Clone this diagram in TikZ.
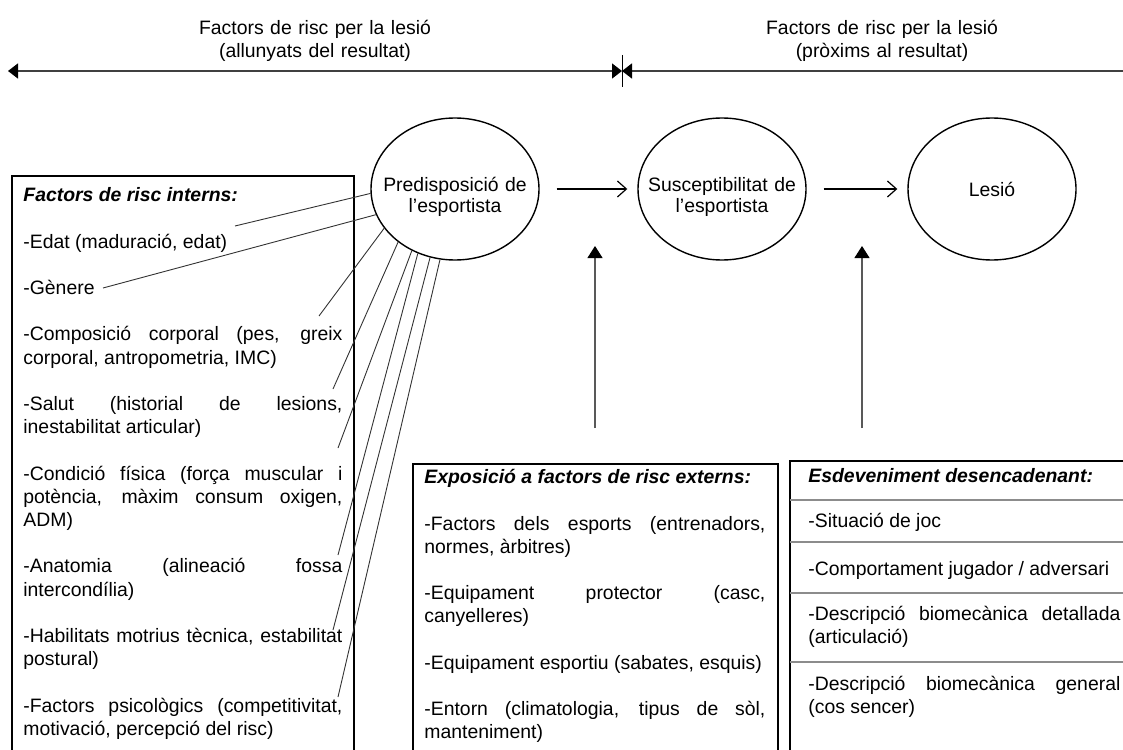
\documentclass[tikz,border=0pt]{standalone}
\usepackage{fontspec}
\setmainfont{Liberation Sans}
\usetikzlibrary{arrows.meta,shapes.geometric}
\setlength{\parindent}{0pt}
\hyphenpenalty=10000
\exhyphenpenalty=10000
\hbadness=10000
\newcommand{\txt}{\fontsize{9.7pt}{11.6pt}\selectfont}
\newcommand{\titolet}[1]{\textbf{\textit{#1}}}

\begin{document}
\begin{tikzpicture}[x=0.5pt,y=-0.5pt,
	factor/.style={ellipse,draw,line width=0.7pt,minimum width=84pt,minimum height=71pt,inner sep=0pt,align=center,font={\fontsize{9.7pt}{10.5pt}\selectfont}},
	dues/.style={text width=76pt,inner xsep=-9pt,text height=14.7pt},
	caixa/.style={draw,line width=0.8pt},
	llista/.style={anchor=north west,inner sep=0pt,text width=159.5pt,align=justify,font=\txt},
	titol/.style={anchor=north,inner sep=0pt,text width=130pt,align=center,font=\txt},
	fletxa/.style={line width=0.6pt,-{Straight Barb[length=4.5pt,width=8pt]},shorten <=8.5pt,shorten >=5pt},
	puja/.style={black!65,line width=0.55pt,-{Triangle[length=6pt,width=7.5pt,black]}},
	]
	\useasboundingbox (0,0) rectangle (1123,749);
	\clip (0,0) rectangle (1123,749);

	% eix superior
	\coordinate (lluny) at (8,71);
	\coordinate (mig) at (622,71);
	\coordinate (prop) at (1140,71);
	\draw[black!75,line width=0.75pt,{Triangle[length=5pt,width=7.5pt,black]}-{Triangle[length=5pt,width=7.5pt,black]}] (lluny) -- (mig);
	\draw[black!75,line width=0.75pt,{Triangle[length=5pt,width=7.5pt,black]}-] (mig) -- (prop);
	\draw[line width=0.4pt] ([yshift=8pt]mig) -- ([yshift=-8pt]mig);
	\node[titol] (llunyans) at (315,18) {\strut Factors de risc per la lesió\\(allunyats del resultat)};
	\node[titol] (propers) at (882,18) {\strut Factors de risc per la lesió\\(pròxims al resultat)};

	% cadena
	\node[factor,dues] (pred) at (455,189) {Predisposició de\\l’esportista};
	\node[factor,dues] (susc) at (722,189) {Susceptibilitat de\\l’esportista};
	\node[factor] (lesio) at (992,189) {Lesió};
	\draw[fletxa] (pred) -- (susc);
	\draw[fletxa] (susc) -- (lesio);

	% caixes
	\draw[caixa] (12,176) rectangle (354,780);
	\draw[caixa] (413,464) rectangle (778,780);
	\draw[caixa] (790,461) rectangle (1145,780);
	\foreach \y in {500,542,593,662}
		\draw[black!45,line width=0.6pt] (790,\y) -- (1145,\y);

	% factors interns
	\node[llista] (interns) at (23,185) {\setlength{\parskip}{11.6pt}\strut\titolet{Factors de risc interns:}\par
		-Edat (maduració, edat)\par
		-Gènere\par
		-Composició corporal (pes, greix\linebreak corporal, antropometria, IMC)\par
		-Salut (historial de lesions,\linebreak inestabilitat articular)\par
		-Condició física (força muscular i\linebreak potència, màxim consum oxigen,\linebreak ADM)\par
		-Anatomia (alineació fossa\linebreak intercondília)\par
		-Habilitats motrius tècnica, estabilitat\linebreak postural)\par
		-Factors psicològics (competitivitat,\linebreak motivació, percepció del risc)};
	\foreach \ang/\x/\y [count=\i] in {183/235/226,198/103/288,209/319/316,223/333/389,235/338/448,240/338/555,250/333/630,258/338/697}{
		\coordinate (f\i) at (\x,\y);
		\draw[black!80,line width=0.45pt] (pred.\ang) -- (f\i);
	}

	% factors externs
	\node[llista,text width=170.5pt] (externs) at (424,467) {\setlength{\parskip}{11.6pt}\strut\titolet{Exposició a factors de risc externs:}\par
		-Factors dels esports (entrenadors,\linebreak normes, àrbitres)\par
		-Equipament protector (casc,\linebreak canyelleres)\par
		-Equipament esportiu (sabates, esquis)\par
		-Entorn (climatologia, tipus de sòl,\linebreak manteniment)};
	\coordinate (expo) at (595,428);
	\coordinate (expotop) at (595,246);
	\draw[puja] (expo) -- (expotop);

	% esdeveniment
	\foreach \y/\nom/\text in {466/desenc/{\titolet{Esdeveniment desencadenant:}},511/joc/{-Situació de joc},559/comport/{-Comportament jugador / adversari},604/detall/{-Descripció biomecànica detallada\linebreak (articulació)},674/general/{-Descripció biomecànica general\linebreak (cos sencer)}}
		\node[llista,text width=156pt] (\nom) at (808,\y) {\strut\text};
	\coordinate (desc) at (862,428);
	\coordinate (desctop) at (862,246);
	\draw[puja] (desc) -- (desctop);
\end{tikzpicture}
\end{document}
